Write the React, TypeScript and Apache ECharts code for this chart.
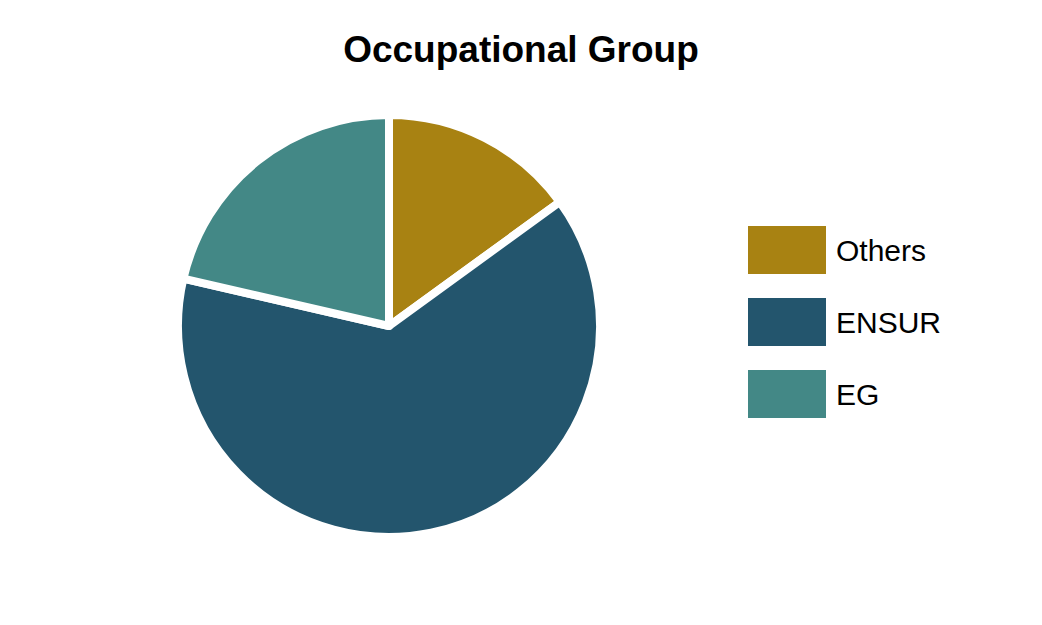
import * as echarts from "echarts";
import { useEffect, useRef } from "react";

const groupNames = ["Others", "ENSUR", "EG"];
const groupShares = [15, 63.6, 21.4];
const groupColors = ["#a88212", "#23556d", "#438886"];

export default function App() {
  const ref = useRef<HTMLDivElement | null>(null);

  useEffect(() => {
    document.body.style.margin = "0";
    if (!ref.current) return;
    const chart = echarts.init(ref.current, undefined, { renderer: "svg" });
    chart.setOption({
      animation: false,
      color: groupColors,
      title: {
        text: "Occupational Group",
        left: "center",
        top: 26,
        textStyle: { fontFamily: "Liberation Sans", fontWeight: "bold", fontSize: 37, color: "#000" },
      },
      legend: {
        orient: "vertical",
        left: 748,
        top: 226,
        padding: 0,
        itemWidth: 78,
        itemHeight: 48,
        itemGap: 24,
        icon: "rect",
        itemStyle: { borderWidth: 0 },
        textStyle: { fontFamily: "Liberation Sans", fontSize: 30, color: "#000", padding: [0, 0, 0, 5] },
        data: groupNames,
      },
      series: [
        {
          type: "pie",
          center: [389, 326],
          radius: 211,
          startAngle: 90,
          clockwise: true,
          label: { show: false },
          labelLine: { show: false },
          emphasis: { disabled: true },
          itemStyle: { borderColor: "#fff", borderWidth: 8, borderJoin: "round" },
          data: groupNames.map((name, i) => ({ name, value: groupShares[i] })),
        },
      ],
    });
    return () => chart.dispose();
  }, []);

  return <div ref={ref} style={{ width: 1042, height: 625 }} />;
}
